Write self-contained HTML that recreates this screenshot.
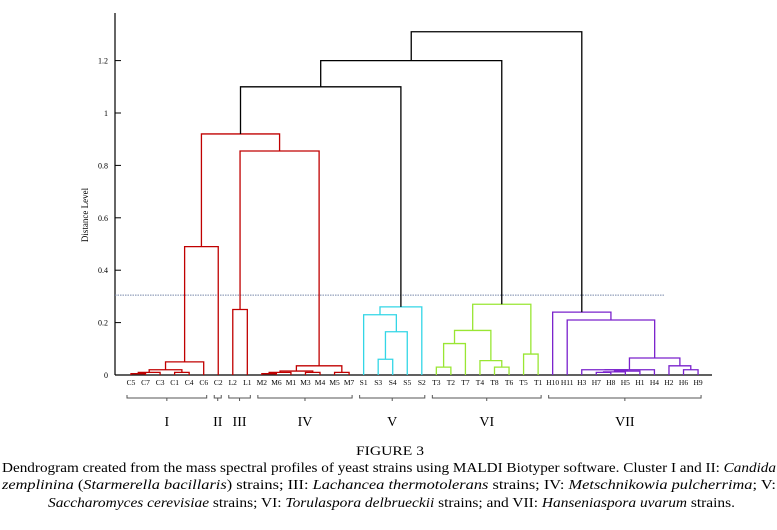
<!DOCTYPE html>
<html><head><meta charset="utf-8"><style>
body{margin:0;background:#fff;}
svg{display:block;font-family:"Liberation Serif",serif;}
</style></head><body>
<svg id="chart" width="777" height="530" viewBox="0 0 777 530">
<g id="axis"></g>
<g id="links"></g>
<g id="leaves"></g>
<g id="brackets"></g>
<text x="88" y="215" font-size="9" text-anchor="middle" transform="rotate(-90 88 215)">Distance Level</text>
<text x="390" y="455" font-size="13" text-anchor="middle" textLength="68" lengthAdjust="spacingAndGlyphs">FIGURE 3</text>
<text x="2" y="472" font-size="13.5" textLength="774" lengthAdjust="spacingAndGlyphs">Dendrogram created from the mass spectral profiles of yeast strains using MALDI Biotyper software. Cluster I and II: <tspan font-style="italic">Candida</tspan></text>
<text x="2" y="489" font-size="13.5" textLength="774" lengthAdjust="spacingAndGlyphs"><tspan font-style="italic">zemplinina</tspan>  (<tspan font-style="italic">Starmerella  bacillaris</tspan>)  strains;  III:  <tspan font-style="italic">Lachancea  thermotolerans</tspan>  strains;  IV:  <tspan font-style="italic">Metschnikowia  pulcherrima</tspan>;  V:</text>
<text x="48" y="507" font-size="13.5" textLength="687" lengthAdjust="spacingAndGlyphs"><tspan font-style="italic">Saccharomyces cerevisiae</tspan> strains; VI: <tspan font-style="italic">Torulaspora delbrueckii</tspan> strains; and VII: <tspan font-style="italic">Hanseniaspora uvarum</tspan> strains.</text>
</svg>
<script>
const leaves=["C5","C7","C3","C1","C4","C6","C2","L2","L1","M2","M6","M1","M3","M4","M5","M7","S1","S3","S4","S5","S2","T3","T2","T7","T4","T8","T6","T5","T1","H10","H11","H3","H7","H8","H5","H1","H4","H2","H6","H9"];
// merges: [left, right, height]; merged node named "m"+index
const mergeLeft=["C5","m0","C1","m1","m3","m4","L2","M2","m7","M3","m8","M5","m10","m6","m5","S3","m15","S1","m17","T3","m19","T8","T4","m20","T5","m23","H7","m26","m27","H3","m29","H6","H2","m30","H11","H10","m14","m36","m37"];
const mergeRight=["C7","C3","C4","m2","C6","C2","L1","M6","M1","M4","m9","M7","m11","m12","m13","S4","S5","m16","S2","T2","T7","T6","m21","m22","T1","m24","H8","H5","H1","m28","H4","H9","m31","m32","m33","m34","m18","m25","m35"];
const mergeHeight=[0.005,0.01,0.01,0.02,0.05,0.49,0.25,0.005,0.01,0.01,0.015,0.01,0.035,0.855,0.92,0.06,0.165,0.23,0.26,0.03,0.12,0.03,0.055,0.17,0.08,0.27,0.01,0.012,0.015,0.02,0.02,0.02,0.035,0.065,0.21,0.24,1.1,1.2,1.31];
const yTicks=[0,0.2,0.4,0.6,0.8,1,1.2];
const groupRanges=[["I",0,5],["II",6,6],["III",7,8],["IV",9,15],["V",16,20],["VI",21,28],["VII",29,39]];
const cutoff=0.305;
</script>
<script>
const NS="http://www.w3.org/2000/svg";
const y0=375,pxPerUnit=262;
function Y(v){return y0-v*pxPerUnit;}
function X(i){return 131+i*14.54;}
function mk(tag,attrs,parent){const e=document.createElementNS(NS,tag);for(const k in attrs)e.setAttribute(k,attrs[k]);parent.appendChild(e);return e;}
const colors={C:"#c00000",L:"#c00000",M:"#c00000",S:"#33d6e6",T:"#99e633",H:"#7a22cc"};
const axis=document.getElementById("axis");
let e=mk("line",{x1:115,y1:13,x2:115,y2:375,stroke:"#000","stroke-width":1.2},axis);


e=mk("line",{x1:115,y1:375,x2:712,y2:375,stroke:"#000","stroke-width":1.2},axis);


yTicks.forEach(t=>{
  const l=mk("line",{x1:115,x2:121,y1:Y(t),y2:Y(t),stroke:"#000"},axis);
  
  
  const tx=mk("text",{x:108,y:Y(t)+3,"font-size":8,"text-anchor":"end"},axis);
  tx.textContent=String(t);
  
  
});
e=mk("line",{x1:115,y1:Y(cutoff),x2:665,y2:Y(cutoff),stroke:"#7788aa","stroke-width":1,"stroke-dasharray":"1.5,1"},axis);


const nodes={};
const lg=document.getElementById("leaves");
leaves.forEach((n,i)=>{
  nodes[n]={x:X(i),h:0,g:new Set([n[0]])};
  const t=mk("text",{x:X(i),y:385,"font-size":7.5,"text-anchor":"middle"},lg);
  t.textContent=n;
  
  
});
const links=document.getElementById("links");
for(let i=0;i<mergeLeft.length;i++){
  const a=nodes[mergeLeft[i]],b=nodes[mergeRight[i]];
  if(!a||!b)continue;
  const h=mergeHeight[i];
  const g=new Set([...a.g,...b.g]);
  let col="#000";
  const cs=new Set([...g].map(k=>colors[k]));
  if(cs.size===1)col=[...cs][0];
  const p=mk("path",{d:`M${a.x},${Y(a.h)}V${Y(h)}H${b.x}V${Y(b.h)}`,fill:"none",stroke:col,"stroke-width":1.3},links);
  
  
  nodes["m"+i]={x:(a.x+b.x)/2,h:h,g:g};
}
const br=document.getElementById("brackets");
groupRanges.forEach(([lab,s,f])=>{
  const x1=X(s)-4,x2=X(f)+3,m=(x1+x2)/2;
  const p=mk("path",{d:`M${x1},395V398H${x2}V395M${m},398V401`,fill:"none",stroke:"#555","stroke-width":1},br);
  
  
  const t=mk("text",{x:m,y:426,"font-size":14,"text-anchor":"middle"},br);
  t.textContent=lab;
  
  
});
</script>
</body></html>
